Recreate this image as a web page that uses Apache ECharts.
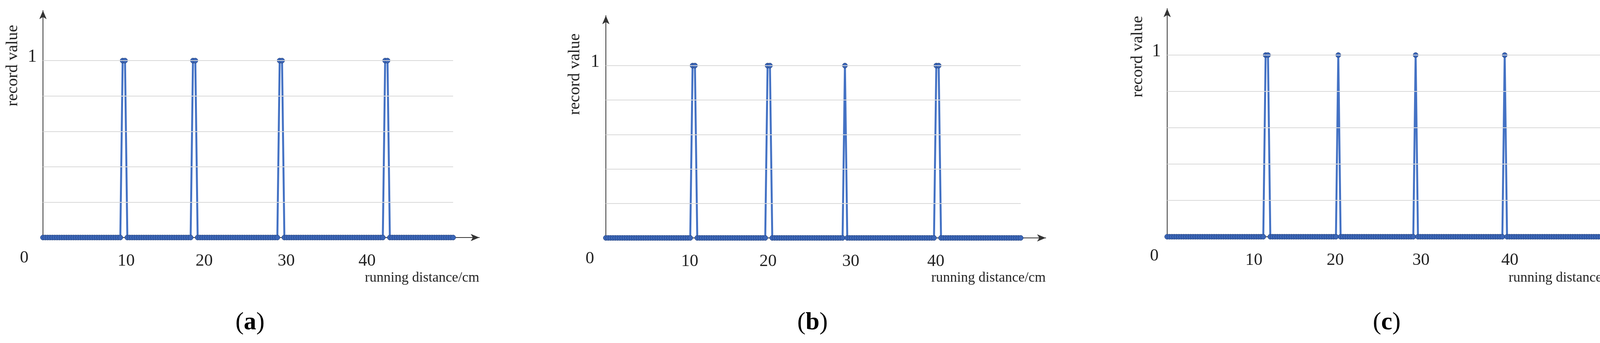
<!DOCTYPE html>
<html><head><meta charset="utf-8">
<script src="https://cdn.jsdelivr.net/npm/echarts@6/dist/echarts.min.js"></script>
<style>html,body{margin:0;padding:0;background:#fff;overflow:hidden}#c{width:4173px;height:878px}</style>
</head><body><div id="c"></div>
<script>
// sample counts (one sample per step along running distance)
const samplesA = 176, samplesB = 178, samplesC = 187;
// indices of samples whose record value is 1 (all others are 0)
const onesA = [34, 35, 64, 65, 101, 102, 146, 147];
const onesB = [37, 38, 69, 70, 102, 141, 142];
const onesC = [42, 43, 73, 106, 144];
// tick label positions (sample index) and texts
const tickPosA = [35.5, 68.8, 103.8, 138.3];
const tickPosB = [35.8, 69.2, 104.5, 140.8];
const tickPosC = [37, 71.7, 108.3, 146.2];
const tickText = ['10', '20', '30', '40'];
const gridValues = [0.2, 0.4, 0.6, 0.8, 1];
const yLabelValues = [1];
const panelLabels = ['a', 'b', 'c'];

function build(n, ones) { const d = []; for (let i = 0; i < n; i++) d.push([i, ones.includes(i) ? 1 : 0]); return d; }

const FONT = 'Liberation Serif';
const STEP = 6;
const panels = [
  {left: 110, top: 27, bottom: 270, n: samplesA, ones: onesA, ticks: tickPosA, arrowX: 1227},
  {left: 1551, top: 40, bottom: 269, n: samplesB, ones: onesB, ticks: tickPosB, arrowX: 2677},
  {left: 2988, top: 22, bottom: 272, n: samplesC, ones: onesC, ticks: tickPosC, arrowX: 4155}
];
const ymaxes = [1.283, 1.29, 1.256];

const option = {animation: false, backgroundColor: '#fff', grid: [], xAxis: [], yAxis: [], series: [], graphic: []};
panels.forEach((p, k) => {
  const xmax = (p.arrowX - p.left) / STEP;
  option.grid.push({left: p.left, top: p.top, width: p.arrowX - p.left, bottom: p.bottom});
  option.xAxis.push({type: 'value', gridIndex: k, min: 0, max: xmax,
    axisLine: {show: true, onZero: false, lineStyle: {color: '#333', width: 2}, symbol: ['none', 'arrow'], symbolSize: [14, 22]},
    axisTick: {show: false}, splitLine: {show: false},
    axisLabel: {customValues: p.ticks, formatter: v => tickText[p.ticks.indexOf(v)] ?? '', margin: 38, fontFamily: FONT, fontSize: 44, color: '#222'}});
  option.yAxis.push({type: 'value', gridIndex: k, min: 0, max: ymaxes[k],
    axisLine: {show: true, lineStyle: {color: '#333', width: 2}, symbol: ['none', 'arrow'], symbolSize: [14, 22]},
    axisTick: {show: false}, splitLine: {show: false},
    axisLabel: {customValues: yLabelValues, formatter: v => String(v), margin: 16, fontFamily: FONT, fontSize: 46, color: '#222', verticalAlign: 'bottom', padding: [0,0,-14,0]}});
  option.series.push({type: 'line', xAxisIndex: k, yAxisIndex: k, data: build(p.n, p.ones),
    symbol: 'circle', symbolSize: 13, showSymbol: true,
    lineStyle: {color: '#4472C4', width: 5},
    itemStyle: {color: '#3B66B8', borderColor: '#213F78', borderWidth: 1},
    markLine: {silent: true, symbol: 'none', label: {show: false}, lineStyle: {color: '#d9d9d9', width: 2, type: 'solid'},
      data: gridValues.map(v => [{coord: [0, v]}, {coord: [p.n - 1, v]}])},
    z: 3});
});
const yNameX = [33, 1472, 2913], yNameY = [168, 190, 145];
const zeroX = [62, 1510, 2955], zeroY = [660, 662, 655];
const panelX = [640, 2080, 3550];
panels.forEach((p, k) => {
  option.graphic.push({type: 'text', x: yNameX[k], y: yNameY[k], rotation: Math.PI / 2,
    style: {text: 'record value', font: '42px "' + FONT + '"', fill: '#222', align: 'center', verticalAlign: 'middle'}});
  option.graphic.push({type: 'text', x: zeroX[k], y: zeroY[k],
    style: {text: '0', font: '44px "' + FONT + '"', fill: '#222', align: 'center', verticalAlign: 'middle'}});
  option.graphic.push({type: 'text', x: p.arrowX, y: 712,
    style: {text: 'running distance/cm', font: '36px "' + FONT + '"', fill: '#222', align: 'right', verticalAlign: 'middle'}});
  option.graphic.push({type: 'text', x: panelX[k], y: 826,
    style: {text: '({b|' + panelLabels[k] + '})', font: '64px "' + FONT + '"', fill: '#000', align: 'center', verticalAlign: 'middle',
      rich: {b: {fontWeight: 'bold', fontSize: 64, fontFamily: FONT}}}});
});
const chart = echarts.init(document.getElementById('c'));
chart.setOption(option);
</script></body></html>
